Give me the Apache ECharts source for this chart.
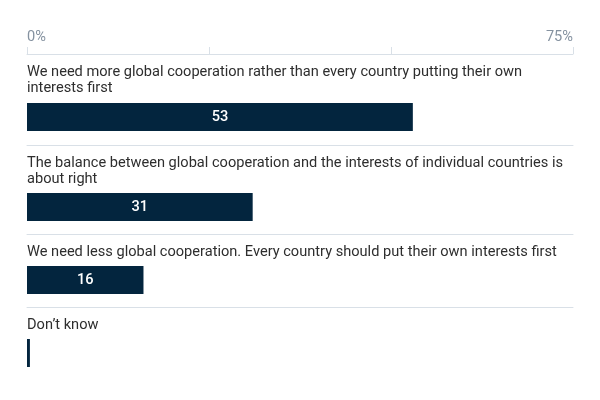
<!DOCTYPE html>
<html><head><meta charset="utf-8">
<script src="https://cdn.jsdelivr.net/npm/echarts@6/dist/echarts.min.js"></script>
<style>html,body{margin:0;padding:0;background:#fff}#c{width:600px;height:400px}</style>
</head><body><div id="c"></div>
<script>
// ---- data ----
const categories = [
  'We need more global cooperation rather than every country putting their own interests first',
  'The balance between global cooperation and the interests of individual countries is about right',
  'We need less global cooperation. Every country should put their own interests first',
  'Don\u2019t know'
];
const values = [53, 31, 16, 0.4];
const axisMin = 0;
const axisMax = 75;
const axisInterval = 25;
const tickLabels = { 0: '0%', 75: '75%' };

// ---- layout ----
const FONT = 'Roboto, "Liberation Sans", sans-serif';
const LEFT = 27, RIGHT = 27;
const barTops = [103, 193, 266, 339];
const barH = 28;
const lineYs = [54, 145, 234, 307];   // top axis line, then separators
const labelTops = [64, 155, 244, 317];
const BAR_COLOR = '#03253e';
const RULE_COLOR = '#d9e0e7';

const grids = [], xAxes = [], yAxes = [], series = [], titles = [];
categories.forEach((cat, i) => {
  grids.push({ left: LEFT, right: RIGHT, top: barTops[i], height: barH, containLabel: false });
  const first = i === 0;
  xAxes.push({
    gridIndex: i, type: 'value', min: axisMin, max: axisMax, interval: axisInterval,
    position: 'top', offset: barTops[i] - lineYs[i],
    axisLine: { show: true, lineStyle: { color: RULE_COLOR, width: 1 } },
    axisTick: { show: first, length: 7, lineStyle: { color: RULE_COLOR } },
    axisLabel: {
      show: first, margin: 9, color: '#8592a0', fontSize: 14.6, fontFamily: FONT,
      alignMinLabel: 'left', alignMaxLabel: 'right',
      formatter: v => tickLabels[v] || ''
    },
    splitLine: { show: false }
  });
  yAxes.push({ gridIndex: i, type: 'category', data: [cat], show: false });
  series.push({
    type: 'bar', xAxisIndex: i, yAxisIndex: i, data: [values[i]],
    barWidth: '100%', itemStyle: { color: BAR_COLOR },
    label: {
      show: true, position: 'inside', color: '#fff', fontSize: 14.6, fontWeight: 500,
      fontFamily: FONT, formatter: p => (p.value >= 5 ? String(p.value) : '')
    },
    silent: true
  });
  titles.push({
    left: LEFT - 5, top: labelTops[i] - 5, text: cat,
    textStyle: {
      fontFamily: FONT, fontSize: 14.6, fontWeight: 'normal', color: '#2e2e2e',
      width: 546, overflow: 'break', lineHeight: 16
    }
  });
});

const chart = echarts.init(document.getElementById('c'), null, { renderer: 'canvas' });
chart.setOption({
  animation: false,
  backgroundColor: '#ffffff',
  title: titles,
  grid: grids,
  xAxis: xAxes,
  yAxis: yAxes,
  series: series
});
</script>
</body></html>
